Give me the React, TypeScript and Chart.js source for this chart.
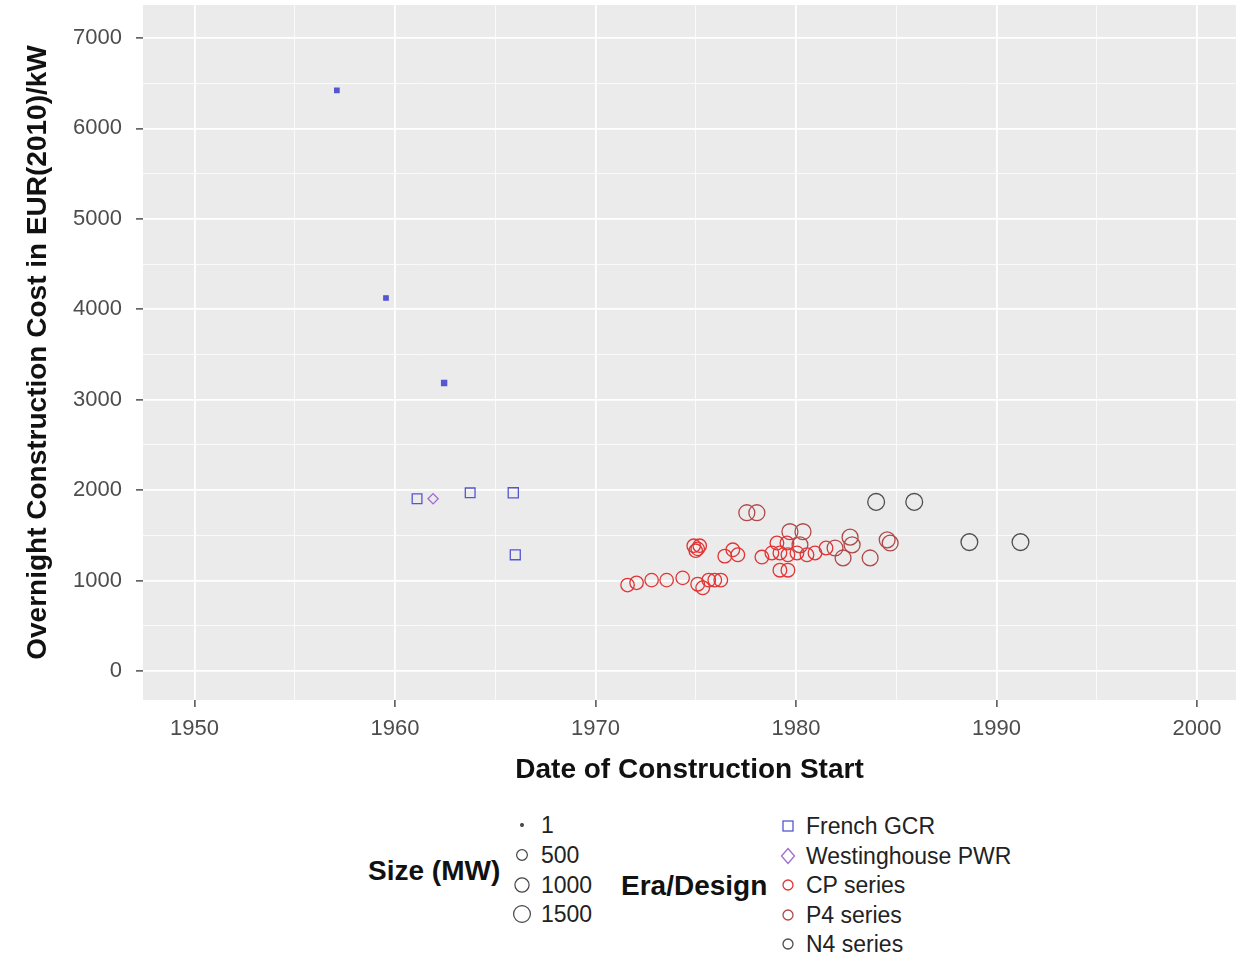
import React, { useEffect, useRef } from 'react';
import { Chart, registerables } from 'chart.js';

Chart.register(...registerables);

const FONT = "'Liberation Sans', Arial, Helvetica, sans-serif";

// Axis ranges and tick positions (every tick draws a grid line, labelled ones are major)
const X_MIN = 1947.43;
const X_MAX = 2001.95;
const Y_MIN = -321;
const Y_MAX = 7365;
const xTicks = [1950, 1955, 1960, 1965, 1970, 1975, 1980, 1985, 1990, 1995, 2000];
const xLabels = ['1950', '', '1960', '', '1970', '', '1980', '', '1990', '', '2000'];
const yTicks = [0, 500, 1000, 1500, 2000, 2500, 3000, 3500, 4000, 4500, 5000, 5500, 6000, 6500, 7000];
const yLabels = ['0', '', '1000', '', '2000', '', '3000', '', '4000', '', '5000', '', '6000', '', '7000'];

// French GCR
const gcrYears = [1957.1, 1959.55, 1962.45, 1961.1, 1963.75, 1965.9, 1966.0];
const gcrCosts = [6420, 4125, 3185, 1905, 1970, 1970, 1285];
const gcrSizes = [40, 40, 70, 480, 480, 540, 515];

// Westinghouse PWR
const pwrYears = [1961.9];
const pwrCosts = [1905];
const pwrSizes = [305];

// CP series
const cpYears = [
  1971.6, 1972.05, 1972.8, 1973.55, 1974.35, 1975.1, 1975.35, 1975.65, 1975.95, 1976.25,
  1974.9, 1975.1, 1975.0, 1975.2, 1976.45, 1976.85, 1977.1, 1978.3, 1978.8, 1979.2,
  1979.6, 1980.05, 1980.55, 1980.95, 1979.05, 1979.55, 1979.2, 1979.6, 1981.5,
];
const cpCosts = [
  950, 975, 1005, 1005, 1030, 960, 920, 1005, 1005, 1005,
  1385, 1350, 1330, 1385, 1270, 1340, 1285, 1260, 1305, 1305,
  1285, 1305, 1285, 1305, 1415, 1415, 1115, 1115, 1360,
];
const cpSizes = [
  880, 880, 880, 880, 880, 920, 920, 910, 910, 910,
  880, 880, 880, 880, 910, 910, 910, 910, 910, 910,
  910, 910, 910, 910, 915, 915, 915, 915, 910,
];

// P4 series
const p4Years = [1977.55, 1978.05, 1979.7, 1980.35, 1980.2, 1981.95, 1982.7, 1982.8, 1982.35, 1983.7, 1984.55, 1984.7];
const p4Costs = [1750, 1750, 1540, 1540, 1395, 1360, 1480, 1395, 1250, 1250, 1450, 1415];
const p4Sizes = [1330, 1330, 1335, 1335, 1300, 1310, 1335, 1335, 1310, 1310, 1310, 1310];

// N4 series
const n4Years = [1984.0, 1985.9, 1988.65, 1991.2];
const n4Costs = [1870, 1870, 1425, 1425];
const n4Sizes = [1500, 1500, 1495, 1495];

// Size legend breaks (MW)
const sizeBreaks = [1, 500, 1000, 1500];

const eraNames = ['French GCR', 'Westinghouse PWR', 'CP series', 'P4 series', 'N4 series'];
const eraColors = ['#5656D2', '#A06BD2', '#E23434', '#B04848', '#4E4E4E'];
const eraShapes = ['rect', 'rectRot', 'circle', 'circle', 'circle'];
const eraShapeScale = [1.3, 1.15, 1, 1, 1];

const SIZE_MIN = 1;
const SIZE_MAX = 1500;

// Area-proportional size scale (sqrt of capacity), as a point radius in px
function radiusFor(mw: number): number {
  const t = (Math.sqrt(mw) - Math.sqrt(SIZE_MIN)) / (Math.sqrt(SIZE_MAX) - Math.sqrt(SIZE_MIN));
  return 1.4 * (1 + 5 * t);
}

const seriesYears = [gcrYears, pwrYears, cpYears, p4Years, n4Years];
const seriesCosts = [gcrCosts, pwrCosts, cpCosts, p4Costs, n4Costs];
const seriesSizes = [gcrSizes, pwrSizes, cpSizes, p4Sizes, n4Sizes];

const panelBackground = {
  id: 'panelBackground',
  beforeDraw(chart: any) {
    const { ctx, chartArea: a } = chart;
    ctx.save();
    ctx.fillStyle = '#EBEBEB';
    ctx.fillRect(a.left, a.top, a.right - a.left, a.bottom - a.top);
    ctx.restore();
  },
};

function labelFor(values: number[], labels: string[], v: number): string {
  const i = values.findIndex((t) => Math.abs(t - v) < 1e-6);
  return i >= 0 ? labels[i] : '';
}

function gridOptions(values: number[], labels: string[]) {
  const major = (c: any) => labelFor(values, labels, c.tick.value) !== '';
  return {
    color: (c: any) => (major(c) ? '#FFFFFF' : 'rgba(255,255,255,0.85)'),
    lineWidth: (c: any) => (major(c) ? 1.8 : 0.9),
    tickColor: (c: any) => (major(c) ? '#333333' : 'rgba(0,0,0,0)'),
    tickLength: 7,
    tickWidth: 1.3,
  };
}

function ScatterChart() {
  const ref = useRef<HTMLCanvasElement | null>(null);

  useEffect(() => {
    if (!ref.current) return;
    const datasets = eraNames.map((name, k) => ({
      label: name,
      data: seriesYears[k].map((x, i) => ({ x, y: seriesCosts[k][i] })),
      pointStyle: eraShapes[k] as any,
      pointRadius: (c: any) => radiusFor(seriesSizes[k][c.dataIndex]) * eraShapeScale[k],
      pointHoverRadius: (c: any) => radiusFor(seriesSizes[k][c.dataIndex]) * eraShapeScale[k],
      pointBorderColor: eraColors[k],
      pointBackgroundColor: (c: any) => (seriesSizes[k][c.dataIndex] < 100 ? eraColors[k] : 'rgba(0,0,0,0)'),
      pointBorderWidth: 1.3,
      showLine: false,
    }));

    const chart = new Chart(ref.current, {
      type: 'scatter',
      data: { datasets },
      plugins: [panelBackground],
      options: {
        animation: false,
        responsive: false,
        maintainAspectRatio: false,
        layout: { autoPadding: false, padding: { top: 5, left: 0, right: 0, bottom: 0 } },
        plugins: { legend: { display: false }, tooltip: { enabled: false } },
        scales: {
          x: {
            type: 'linear',
            min: X_MIN,
            max: X_MAX,
            afterBuildTicks: (s: any) => { s.ticks = xTicks.map((value) => ({ value })); },
            afterFit: (s: any) => {
              s.height = 100;
              s.paddingLeft = 0;
              s.paddingRight = 0;
            },
            border: { display: false },
            grid: gridOptions(xTicks, xLabels),
            ticks: {
              autoSkip: false,
              maxRotation: 0,
              padding: 9,
              color: '#4D4D4D',
              font: { family: FONT, size: 22 },
              callback: (v: any) => labelFor(xTicks, xLabels, Number(v)),
            },
            title: {
              display: true,
              text: 'Date of Construction Start',
              color: '#111111',
              font: { family: FONT, size: 28, weight: 'bold' },
              padding: { top: 0, bottom: 13 },
            },
          },
          y: {
            type: 'linear',
            min: Y_MIN,
            max: Y_MAX,
            afterBuildTicks: (s: any) => { s.ticks = yTicks.map((value) => ({ value })); },
            afterFit: (s: any) => {
              s.width = 143;
              s.paddingTop = 0;
              s.paddingBottom = 0;
            },
            border: { display: false },
            grid: gridOptions(yTicks, yLabels),
            ticks: {
              autoSkip: false,
              padding: 14,
              color: '#4D4D4D',
              font: { family: FONT, size: 22 },
              callback: (v: any) => labelFor(yTicks, yLabels, Number(v)),
            },
            title: {
              display: true,
              text: 'Overnight Construction Cost in EUR(2010)/kW',
              color: '#111111',
              font: { family: FONT, size: 28, weight: 'bold' },
              padding: { top: 21, bottom: 0 },
            },
          },
        },
      },
    });
    return () => chart.destroy();
  }, []);

  return <canvas ref={ref} width={1236} height={800} style={{ position: 'absolute', left: 0, top: 0 }} />;
}

function EraKey({ k }: { k: number }) {
  const color = eraColors[k];
  const shape = eraShapes[k];
  return (
    <svg width={20} height={20} style={{ position: 'absolute', left: -10, top: -10 }}>
      {shape === 'rect' && <rect x={5} y={5} width={10} height={10} fill="none" stroke={color} strokeWidth={1.3} />}
      {shape === 'rectRot' && <polygon points="10,2.5 16.5,10 10,17.5 3.5,10" fill="none" stroke={color} strokeWidth={1.3} />}
      {shape === 'circle' && <circle cx={10} cy={10} r={5} fill="none" stroke={color} strokeWidth={1.3} />}
    </svg>
  );
}

function SizeKey({ mw }: { mw: number }) {
  const r = radiusFor(mw);
  return (
    <svg width={24} height={24} style={{ position: 'absolute', left: -12, top: -12 }}>
      <circle cx={12} cy={12} r={r} fill={mw < 10 ? '#555' : 'none'} stroke="#444" strokeWidth={1.2} />
    </svg>
  );
}

const legendTitle: React.CSSProperties = {
  position: 'absolute',
  fontFamily: FONT,
  fontWeight: 'bold',
  fontSize: 28,
  lineHeight: '32px',
  color: '#111',
  whiteSpace: 'nowrap',
};

const legendLabel: React.CSSProperties = {
  position: 'absolute',
  fontFamily: FONT,
  fontSize: 23,
  lineHeight: '28px',
  color: '#222',
  whiteSpace: 'nowrap',
};

function Legends() {
  const sizeRowY = [825, 855, 885, 914];
  const eraRowY = [826, 856, 885, 915, 944];
  return (
    <>
      <div style={{ ...legendTitle, left: 368, top: 871 - 16 }}>Size (MW)</div>
      {sizeBreaks.map((mw, i) => (
        <React.Fragment key={mw}>
          <div style={{ position: 'absolute', left: 522, top: sizeRowY[i] }}>
            <SizeKey mw={mw} />
          </div>
          <div style={{ ...legendLabel, left: 541, top: sizeRowY[i] - 14 }}>{String(mw)}</div>
        </React.Fragment>
      ))}
      <div style={{ ...legendTitle, left: 621, top: 886 - 16 }}>Era/Design</div>
      {eraNames.map((name, k) => (
        <React.Fragment key={name}>
          <div style={{ position: 'absolute', left: 788, top: eraRowY[k] }}>
            <EraKey k={k} />
          </div>
          <div style={{ ...legendLabel, left: 806, top: eraRowY[k] - 14 }}>{name}</div>
        </React.Fragment>
      ))}
    </>
  );
}

export default function App() {
  return (
    <div style={{ position: 'absolute', left: 0, top: 0, width: 1236, height: 955, background: '#FFFFFF', overflow: 'hidden' }}>
      <ScatterChart />
      <Legends />
    </div>
  );
}
